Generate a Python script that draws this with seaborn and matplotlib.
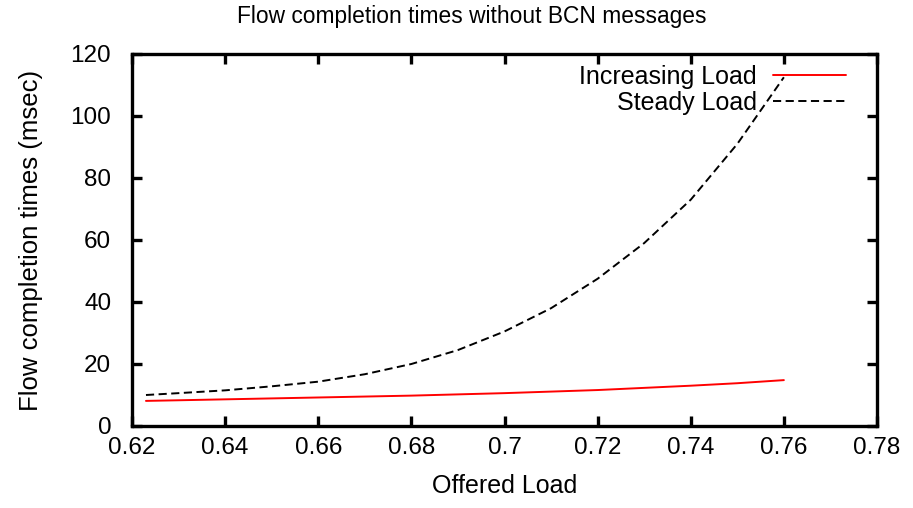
import matplotlib
matplotlib.use("Agg")
import matplotlib.pyplot as plt
from matplotlib.legend import Legend
import seaborn as sns
import pandas as pd

# Offered load samples and measured flow completion times (msec)
offered_load = [0.623, 0.63, 0.64, 0.65, 0.66, 0.67, 0.68, 0.69,
                0.70, 0.71, 0.72, 0.73, 0.74, 0.75, 0.76]
increasing_load = [8.1, 8.3, 8.6, 8.9, 9.2, 9.5, 9.8, 10.2,
                   10.6, 11.1, 11.6, 12.3, 13.0, 13.8, 14.8]
steady_load = [10.0, 10.6, 11.5, 12.8, 14.3, 16.7, 20.0, 24.5,
               30.5, 38.0, 47.5, 59.0, 73.0, 91.0, 112.5]

series_names = ["Increasing Load", "Steady Load"]
x_ticks = [0.62, 0.64, 0.66, 0.68, 0.70, 0.72, 0.74, 0.76, 0.78]
x_tick_labels = ["0.62", "0.64", "0.66", "0.68", "0.7", "0.72", "0.74", "0.76", "0.78"]
y_ticks = [0, 20, 40, 60, 80, 100, 120]

sns.set_theme(style="white")
plt.rcParams["font.family"] = ["Liberation Sans", "DejaVu Sans"]
plt.rcParams["text.color"] = "black"
plt.rcParams["axes.labelcolor"] = "black"

df = pd.DataFrame({
    "load": offered_load * 2,
    "fct": increasing_load + steady_load,
    "series": [series_names[0]] * len(offered_load) + [series_names[1]] * len(offered_load),
})

fig = plt.figure(figsize=(9.13, 5.08), dpi=100)
ax = fig.add_axes([132 / 913, 1 - 426 / 508, (877 - 132) / 913, (426 - 54) / 508])

sns.lineplot(data=df[df.series == series_names[0]], x="load", y="fct",
             color="#ff0000", linewidth=1.4, ax=ax, legend=False)
sns.lineplot(data=df[df.series == series_names[1]], x="load", y="fct",
             color="black", linewidth=1.4, ax=ax, legend=False)
ax.lines[1].set_dashes([4.2, 2.3])

ax.set_xlim(0.62, 0.78)
ax.set_ylim(0, 120)
ax.set_xticks(x_ticks)
ax.set_xticklabels(x_tick_labels)
ax.set_yticks(y_ticks)

for side in ax.spines.values():
    side.set_visible(True)
    side.set_linewidth(2.4)
    side.set_color("black")
ax.tick_params(direction="in", length=7, width=2.4, labelsize=17.5,
               top=True, right=True, bottom=True, left=True,
               colors="black")
ax.tick_params(axis="x", pad=8)
ax.tick_params(axis="y", pad=15)
ax.grid(False)

ax.set_xlabel("Offered Load", fontsize=18, labelpad=11)
ax.set_ylabel("Flow completion times (msec)", fontsize=18.5, labelpad=20)
fig.text(472 / 913, 1 - 16 / 508, "Flow completion times without BCN messages",
         ha="center", va="center", fontsize=16.4)

# One single-entry legend per series so each label is right-aligned
for line, name, yc in zip(ax.lines[:2], series_names, [77, 103]):
    leg = Legend(ax, [line], [name], loc="center right",
                 bbox_to_anchor=((846 - 132) / (877 - 132), (426 - yc) / (426 - 54)),
                 frameon=False, markerfirst=False, handlelength=2.92,
                 handletextpad=0.64, borderpad=0, borderaxespad=0,
                 fontsize=18)
    ax.add_artist(leg)

fig.savefig("out.png", dpi=100)
